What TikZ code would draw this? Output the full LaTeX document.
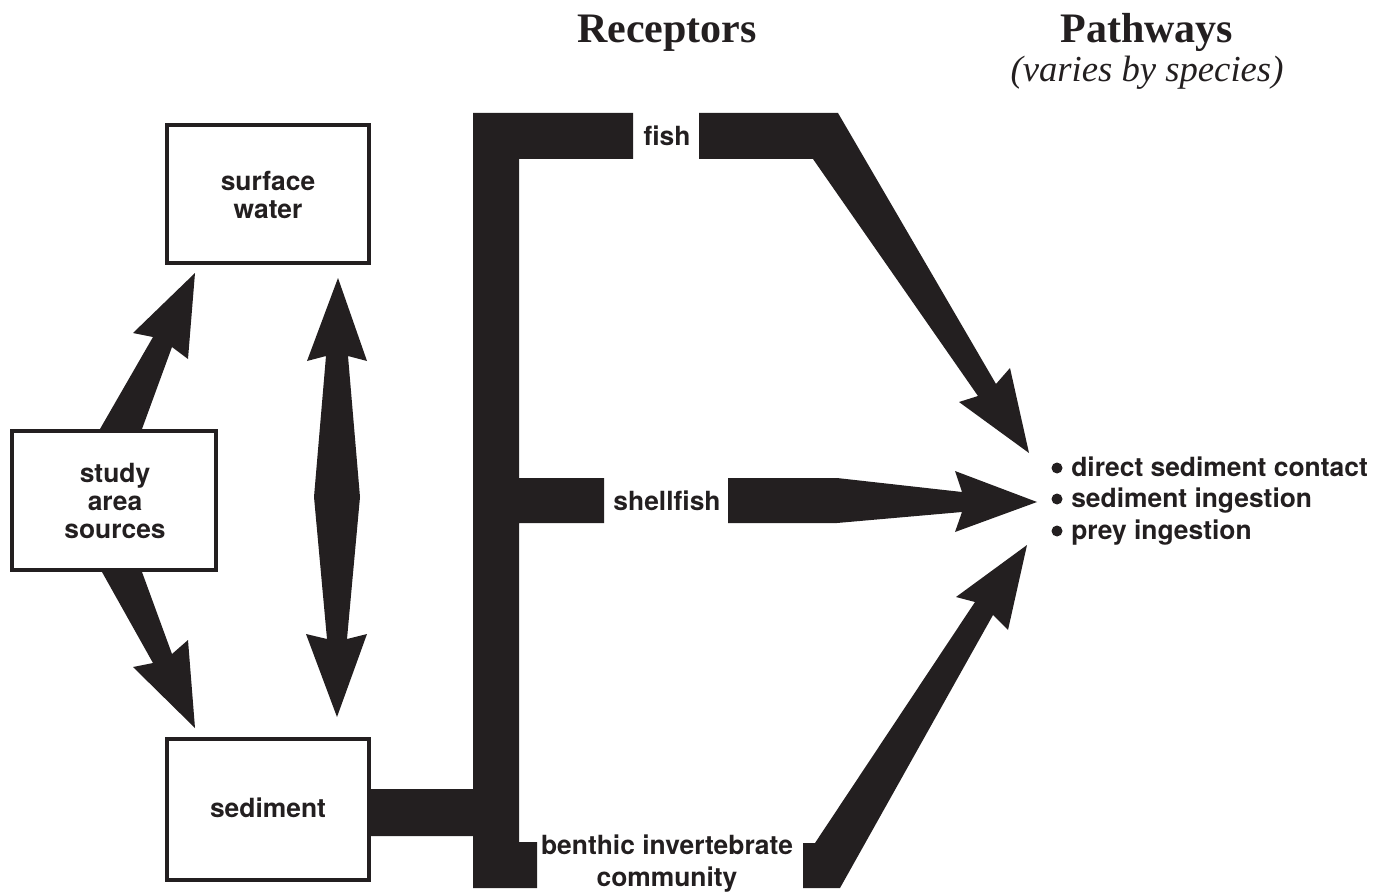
\documentclass[tikz,border=0pt]{standalone}
\usepackage{fontspec}
\setmainfont{Liberation Serif}
\setsansfont{TeX Gyre Heros}
\definecolor{ink}{HTML}{231F20}
\begin{document}
\begin{tikzpicture}[x=0.75pt,y=-0.75pt,
  box/.style={draw=ink,line width=3.4pt},
  fat/.style={fill=ink,draw=none},
  lbl/.style={inner sep=0pt,text=ink,font=\sffamily\bfseries\fontsize{19.8}{21}\selectfont,align=center},
  item/.style={inner sep=0pt,anchor=base west,text=ink,font=\sffamily\bfseries\fontsize{19.8}{21}\selectfont},
  bul/.style={fill=ink,draw=none},
  title/.style={inner sep=0pt,anchor=base,text=ink,font=\rmfamily\bfseries\fontsize{31.5}{34}\selectfont},
  subtitle/.style={inner sep=0pt,anchor=base,text=ink,font=\rmfamily\itshape\fontsize{27.5}{30}\selectfont}]
\useasboundingbox (0,0) rectangle (1392,895);

% boxes
\draw[box] (167,125) rectangle (369,263);
\draw[box] (12,431) rectangle (216,570);
\draw[box] (167,739) rectangle (369,880);

% arrows between boxes
\fill[fat] (100,429) -- (153,337) -- (133,333) -- (195,273) -- (188,359) -- (172,347) -- (142,429) -- cycle;
\fill[fat] (102,572) -- (142,572) -- (172,654) -- (188,640) -- (195,728) -- (133,667) -- (153,663) -- cycle;
\fill[fat] (338,278) -- (367,361) -- (348,356) -- (360,497) -- (347,639) -- (367,634) -- (337,717)
  -- (306,634) -- (327,639) -- (314,497) -- (326,356) -- (307,361) -- cycle;

% receptor bracket
\fill[fat] (473,113) -- (633,113) -- (633,159) -- (519,159) -- (519,478) -- (604,478) -- (604,523)
  -- (519,523) -- (519,842) -- (537,842) -- (537,888) -- (473,888) -- (473,836) -- (371,836)
  -- (371,789) -- (473,789) -- cycle;

% pathway arrows
\fill[fat] (699,113) -- (838,113) -- (996,384) -- (1010,368) -- (1029,453) -- (959,402) -- (978,396)
  -- (813,159) -- (699,159) -- cycle;
\fill[fat] (728,478) -- (837,478) -- (962,492) -- (955,471) -- (1037,502) -- (955,532) -- (962,512)
  -- (837,523) -- (728,523) -- cycle;
\fill[fat] (803,843) -- (815,843) -- (975,602) -- (956,597) -- (1027,545) -- (1008,630) -- (993,615)
  -- (840,888) -- (803,888) -- cycle;

% labels
\node[lbl] (sw) at (268,195) {surface\\water};
\node[lbl] (sa) at (115,501) {study\\area\\sources};
\node[lbl] (sed) at (268,808) {sediment};
\node[lbl] (fish) at (667,136) {fish};
\node[lbl] (shell) at (667,501) {shellfish};
\node[lbl,font=\sffamily\bfseries\fontsize{19.8}{24}\selectfont] (benthic) at (667,864) {benthic invertebrate\\community};

% pathways list
\fill[bul] (1057,468) circle[radius=5.5];
\fill[bul] (1057,499) circle[radius=5.5];
\fill[bul] (1057,531) circle[radius=5.5];
\node[item] (p1) at (1071,476) {direct sediment contact};
\node[item] (p2) at (1071,507) {sediment ingestion};
\node[item] (p3) at (1071,539) {prey ingestion};

\node[title] (rec) at (667,43) {Receptors};
\node[title] (pw) at (1147,43) {Pathways};
\node[subtitle] (vs) at (1147,82) {(varies by species)};
\end{tikzpicture}
\end{document}
